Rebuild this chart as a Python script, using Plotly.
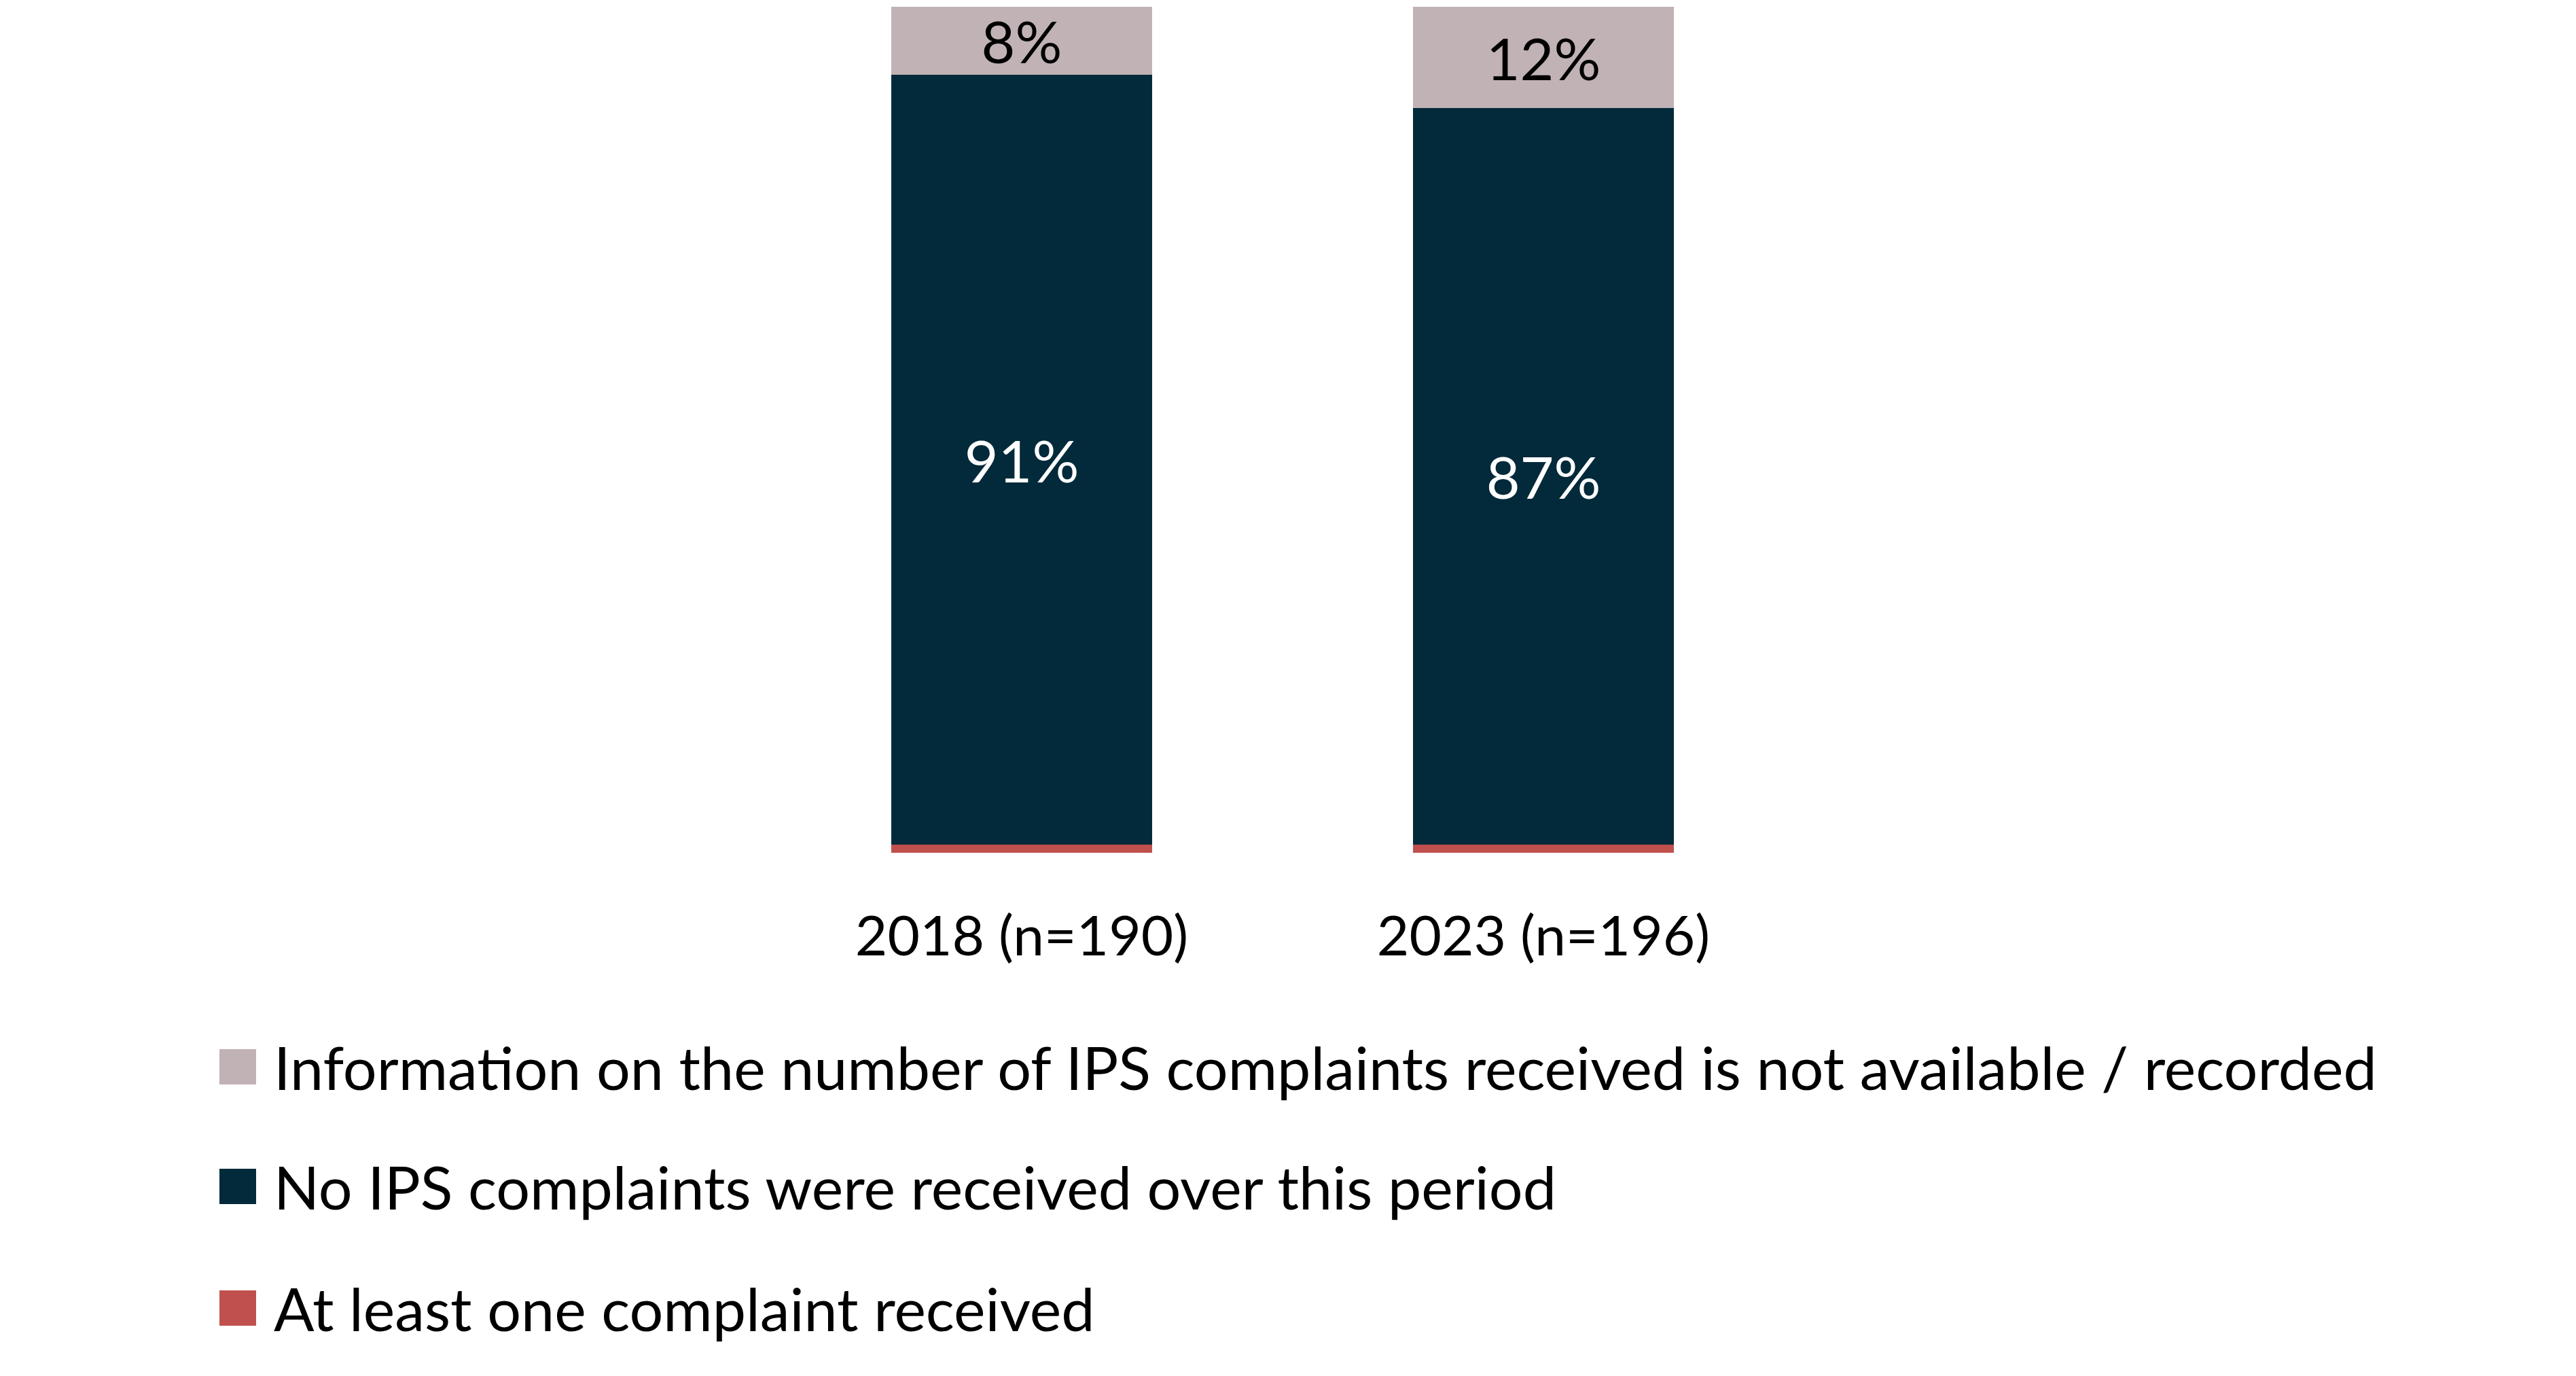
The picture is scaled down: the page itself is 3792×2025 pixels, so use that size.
import plotly.graph_objects as go

# Data
years = ["2018 (n=190)", "2023 (n=196)"]
series_names = [
    "At least one complaint received",
    "No IPS complaints were received over this period",
    "Information on the number of IPS complaints received is not available / recorded",
]
at_least_one = [1, 1]
no_complaints = [91, 87]
not_available = [8, 12]
bar_labels = [
    ["", ""],
    ["91%", "87%"],
    ["8%", "12%"],
]

colors = ["#C0504D", "#022A3A", "#C1B2B6"]
text_colors = ["white", "white", "black"]
FONT = "Lato, 'Source Sans Pro', 'Noto Sans', sans-serif"
W, H = 3792, 2025
TOP, BOTTOM = 2, 778
plot_h = H - TOP - BOTTOM

fig = go.Figure()
for name, vals, labels, col, tcol in zip(series_names,
                                         [at_least_one, no_complaints, not_available],
                                         bar_labels, colors, text_colors):
    fig.add_trace(go.Bar(
        x=years, y=vals, name=name,
        marker=dict(color=col, line=dict(width=0)),
        text=labels, textposition="inside", insidetextanchor="middle",
        textfont=dict(family=FONT, size=86, color=tcol),
        showlegend=False,
        hoverinfo="skip",
    ))

# Legend drawn manually so the swatches can be large
legend_rows = [1562, 1738, 1917]  # pixel centres in the figure, top-down
for (name, col), ypx in zip(list(zip(series_names, colors))[::-1], legend_rows):
    yc = (H - BOTTOM - ypx) / plot_h
    sq = 26 / plot_h
    fig.add_shape(type="rect", xref="paper", yref="paper",
                  x0=315 / W, x1=369 / W, y0=yc - sq, y1=yc + sq,
                  fillcolor=col, line=dict(width=0))
    fig.add_annotation(x=393 / W, y=yc, xref="paper", yref="paper",
                       text=name, showarrow=False, xanchor="left", yanchor="middle",
                       font=dict(family=FONT, size=88, color="black"))

# Category centres ~768px apart
centre0 = 1496
spacing = 768
fig.update_layout(
    barmode="stack",
    bargap=0.5,
    width=W, height=H,
    margin=dict(l=0, r=0, t=TOP, b=BOTTOM),
    paper_bgcolor="white",
    plot_bgcolor="white",
    font=dict(family=FONT, size=84, color="black"),
    uniformtext=dict(minsize=86, mode="show"),
    xaxis=dict(
        range=[-centre0 / spacing, (W - centre0) / spacing],
        showgrid=False, zeroline=False, showline=False,
        ticks="outside", ticklen=52, tickcolor="rgba(0,0,0,0)",
        tickfont=dict(family=FONT, size=82, color="black"),
    ),
    yaxis=dict(range=[0, 100], visible=False),
)

fig.write_html("out.html")
